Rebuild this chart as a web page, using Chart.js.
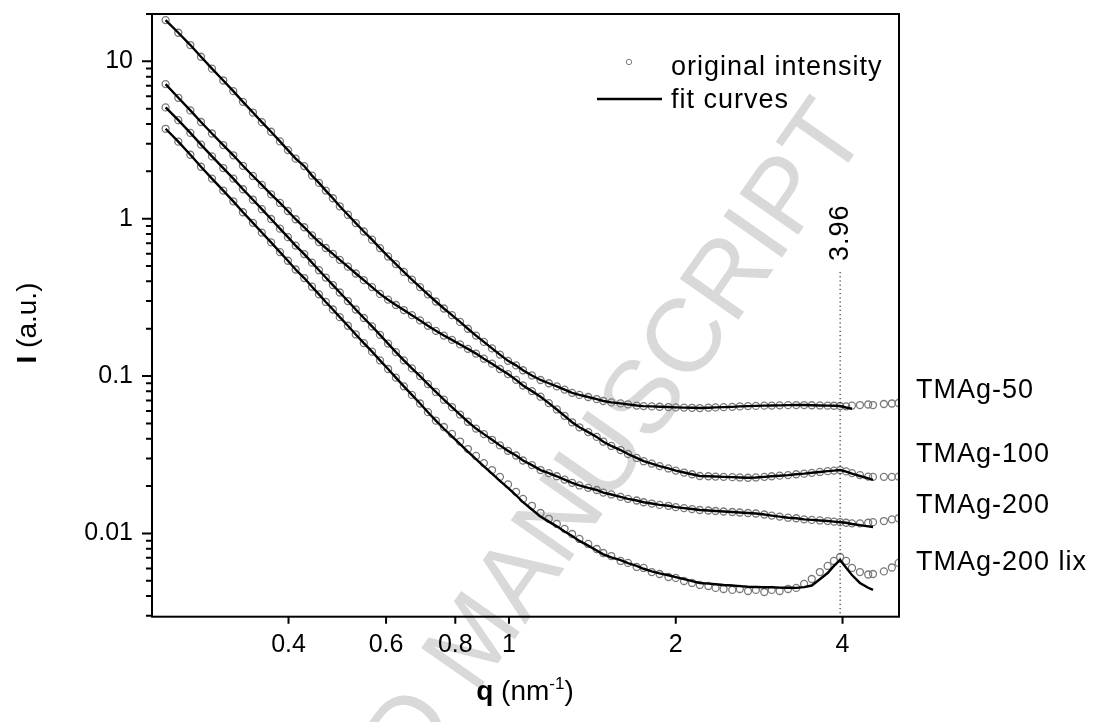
<!DOCTYPE html>
<html lang="en">

<head>
  <meta charset="UTF-8" />
  <title>SAXS intensity and fit curves</title>
  <script src="https://cdn.jsdelivr.net/npm/chart.js"></script>
  <style>
    body { margin: 0; background: #fff; }
    .wrap { position: relative; width: 1093px; height: 722px; }
  </style>
</head>

<body>
  <div class="wrap"><canvas id="saxsChart"></canvas></div>

  <script>
    // q grid (nm^-1), shared by all samples
    const q = [0.240, 0.253, 0.266, 0.278, 0.291, 0.305, 0.318, 0.331, 0.345, 0.358,
      0.372, 0.386, 0.399, 0.412, 0.427, 0.441, 0.454, 0.467, 0.481, 0.495,
      0.512, 0.529, 0.547, 0.566, 0.585, 0.605, 0.625, 0.646, 0.668, 0.691,
      0.714, 0.738, 0.763, 0.789, 0.816, 0.843, 0.872, 0.901, 0.932, 0.963,
      0.996, 1.03, 1.06, 1.10, 1.14, 1.18, 1.22, 1.26, 1.30, 1.34,
      1.39, 1.44, 1.48, 1.53, 1.59, 1.64, 1.70, 1.75, 1.81, 1.87,
      1.94, 2.00, 2.07, 2.14, 2.21, 2.29, 2.36, 2.44, 2.53, 2.61,
      2.70, 2.79, 2.89, 2.98, 3.08, 3.19, 3.30, 3.41, 3.52, 3.64,
      3.76, 3.86, 3.96, 4.06, 4.16, 4.30, 4.45, 4.54, 4.75, 4.91, 5.05];

    // measured intensity (a.u.)
    const tmag50 = [18.3, 15.2, 12.7, 10.7, 8.99, 7.56, 6.47, 5.53, 4.73, 4.11,
      3.57, 3.10, 2.73, 2.41, 2.16, 1.88, 1.69, 1.51, 1.35, 1.20,
      1.06, 0.939, 0.830, 0.736, 0.651, 0.576, 0.515, 0.459, 0.410, 0.368,
      0.331, 0.298, 0.269, 0.244, 0.221, 0.200, 0.181, 0.165, 0.150, 0.137,
      0.125, 0.117, 0.109, 0.101, 0.0945, 0.0901, 0.0860, 0.0821, 0.0783, 0.0760,
      0.0737, 0.0715, 0.0695, 0.0681, 0.0671, 0.0661, 0.0650, 0.0645, 0.0642, 0.0639,
      0.0636, 0.0633, 0.0631, 0.0629, 0.0627, 0.0630, 0.0633, 0.0635, 0.0638, 0.0642,
      0.0645, 0.0647, 0.0649, 0.0650, 0.0652, 0.0654, 0.0655, 0.0655, 0.0653, 0.0651,
      0.0649, 0.0648, 0.0646, 0.0643, 0.0650, 0.0655, 0.0660, 0.0655, 0.0665, 0.0670, 0.0675];

    const tmag100 = [7.17, 5.87, 4.88, 4.12, 3.48, 2.94, 2.53, 2.17, 1.87, 1.64,
      1.43, 1.26, 1.12, 0.993, 0.883, 0.784, 0.711, 0.652, 0.598, 0.548,
      0.496, 0.449, 0.407, 0.368, 0.333, 0.306, 0.283, 0.263, 0.244, 0.226,
      0.209, 0.194, 0.181, 0.170, 0.159, 0.149, 0.139, 0.129, 0.120, 0.111,
      0.103, 0.0947, 0.0872, 0.0803, 0.0740, 0.0674, 0.0614, 0.0559, 0.0509, 0.0473,
      0.0441, 0.0411, 0.0383, 0.0360, 0.0339, 0.0320, 0.0302, 0.0288, 0.0278, 0.0268,
      0.0259, 0.0251, 0.0244, 0.0238, 0.0232, 0.0231, 0.0230, 0.0229, 0.0228, 0.0227,
      0.0226, 0.0227, 0.0229, 0.0231, 0.0233, 0.0235, 0.0238, 0.0240, 0.0243, 0.0246,
      0.0249, 0.0251, 0.0253, 0.0248, 0.0242, 0.0235, 0.0230, 0.0229, 0.0229, 0.0229, 0.0230];

    const tmag200 = [5.10, 4.23, 3.51, 2.96, 2.49, 2.10, 1.80, 1.54, 1.32, 1.15,
      0.996, 0.865, 0.764, 0.675, 0.596, 0.526, 0.471, 0.423, 0.379, 0.340,
      0.300, 0.265, 0.234, 0.207, 0.183, 0.161, 0.142, 0.126, 0.112, 0.100,
      0.0890, 0.0793, 0.0708, 0.0636, 0.0570, 0.0513, 0.0464, 0.0428, 0.0394, 0.0363,
      0.0335, 0.0313, 0.0291, 0.0272, 0.0253, 0.0242, 0.0231, 0.0220, 0.0210, 0.0202,
      0.0195, 0.0189, 0.0182, 0.0177, 0.0171, 0.0166, 0.0162, 0.0158, 0.0155, 0.0152,
      0.0150, 0.0147, 0.0145, 0.0143, 0.0141, 0.0140, 0.0139, 0.0138, 0.0137, 0.0136,
      0.0135, 0.0134, 0.0132, 0.0130, 0.0128, 0.0126, 0.0125, 0.0123, 0.0122, 0.0121,
      0.0120, 0.0119, 0.0118, 0.0117, 0.0116, 0.0116, 0.0117, 0.0118, 0.0120, 0.0123, 0.0125];

    // fitted curves (same q grid, the fit stops before the last points)
    const tmag50Fit = [...tmag50.slice(0, 83), 0.0632, 0.0620];
    const tmag100Fit = [...tmag100.slice(0, 83), 0.0247, 0.0240, 0.0232, 0.0224, 0.0219];
    const tmag200Fit = [...tmag200.slice(0, 83), 0.0117, 0.0115, 0.0113, 0.0111, 0.0110];
    const lixFit = [3.73, 3.09, 2.55, 2.14, 1.80, 1.51, 1.29, 1.10, 0.942, 0.817,
      0.708, 0.614, 0.541, 0.476, 0.420, 0.370, 0.331, 0.296, 0.265, 0.237,
      0.209, 0.184, 0.162, 0.143, 0.126, 0.111, 0.0978, 0.0861, 0.0760, 0.0670,
      0.0590, 0.0521, 0.0463, 0.0414, 0.0370, 0.0331, 0.0297, 0.0267, 0.0240, 0.0216,
      0.0195, 0.0175, 0.0158, 0.0142, 0.0128, 0.0119, 0.0111, 0.0103, 0.00964, 0.00897,
      0.00837, 0.00779, 0.00737, 0.00706, 0.00677, 0.00649, 0.00622, 0.00597, 0.00574, 0.00558,
      0.00543, 0.00528, 0.00513, 0.00498, 0.00485, 0.00480, 0.00476, 0.00471, 0.00467, 0.00463,
      0.00459, 0.00457, 0.00455, 0.00455, 0.00453, 0.00452, 0.00451, 0.00456, 0.00467, 0.00512,
      0.00561, 0.00622, 0.00679, 0.00605, 0.00545, 0.00485, 0.00452, 0.00438];

    const tmag200lix = [...lixFit.slice(0, 32),
      0.0475, 0.0429, 0.0384, 0.0344, 0.0311, 0.0280, 0.0253, 0.0229, 0.0205, 0.0184,
      0.0166, 0.0150, 0.0135, 0.0124, 0.0115, 0.0107, 0.00993, 0.00923, 0.00858, 0.00797,
      0.00752, 0.00719, 0.00669, 0.00650, 0.00613, 0.00604, 0.00569, 0.00553, 0.00529, 0.00522,
      0.00499, 0.00485, 0.00471, 0.00464, 0.00451, 0.00444, 0.00438, 0.00444, 0.00431, 0.00438,
      0.00425, 0.00438, 0.00431, 0.00444, 0.00451, 0.00478, 0.00514, 0.00569, 0.00622,
      0.00669, 0.00709, 0.00669, 0.00604, 0.00569, 0.00549, 0.00553, 0.00574, 0.00608, 0.00650];

    const sampleNames = ['TMAg-50', 'TMAg-100', 'TMAg-200', 'TMAg-200 lix'];
    const xTicks = [0.4, 0.6, 0.8, 1, 2, 4];
    const yTicks = [0.01, 0.1, 1, 10];
    const peakQ = 3.96;

    const FONT = '"Liberation Sans", Arial, Helvetica, sans-serif';

    function toPoints(arr) {
      return q.map((x, i) => ({ x: x, y: arr[i] })).filter(p => p.y != null);
    }

    const circleStyle = {
      showLine: false, pointStyle: 'circle', pointRadius: 3.5, pointBorderWidth: 1.3,
      pointBorderColor: '#7a7a7a', pointBackgroundColor: 'rgba(0,0,0,0)', order: 2
    };
    const fitStyle = {
      showLine: true, borderColor: '#000', borderWidth: 2.4, pointRadius: 0, tension: 0, order: 1
    };

    const datasets = [];
    [tmag50, tmag100, tmag200, tmag200lix].forEach((d, i) => {
      datasets.push(Object.assign({ label: sampleNames[i] + ' data', data: toPoints(d) }, circleStyle));
    });
    [tmag50Fit, tmag100Fit, tmag200Fit, lixFit].forEach((d, i) => {
      datasets.push(Object.assign({ label: sampleNames[i] + ' fit', data: toPoints(d) }, fitStyle));
    });

    const watermark = {
      id: 'watermark',
      beforeDraw(chart) {
        const ctx = chart.ctx;
        ctx.save();
        ctx.translate(475, 696);
        ctx.rotate(-55 * Math.PI / 180);
        ctx.font = '104px ' + FONT;
        ctx.fillStyle = '#d9d9d9';
        ctx.textBaseline = 'alphabetic';
        const pre = ctx.measureText('ACCEPTED ').width;
        ctx.fillText('ACCEPTED MANUSCRIPT', -pre, 0);
        ctx.restore();
      }
    };

    const decorations = {
      id: 'decorations',
      afterDraw(chart) {
        const ctx = chart.ctx;
        const area = chart.chartArea;
        const xs = chart.scales.x;
        const ys = chart.scales.y;
        ctx.save();
        ctx.strokeStyle = '#000';
        ctx.fillStyle = '#000';

        // frame
        ctx.lineWidth = 2;
        ctx.strokeRect(area.left, area.top, area.right - area.left, area.bottom - area.top);

        // x ticks
        ctx.beginPath();
        xTicks.forEach(v => {
          const px = xs.getPixelForValue(v);
          ctx.moveTo(px, area.bottom);
          ctx.lineTo(px, area.bottom + 7);
        });
        // y ticks, major and minor
        yTicks.forEach(v => {
          const py = ys.getPixelForValue(v);
          ctx.moveTo(area.left, py);
          ctx.lineTo(area.left - 10, py);
        });
        [0.001, 0.01, 0.1, 1, 10].forEach(dec => {
          for (let m = 2; m <= 9; m++) {
            const v = m * dec;
            if (v < ys.min || v > ys.max) continue;
            const py = ys.getPixelForValue(v);
            ctx.moveTo(area.left, py);
            ctx.lineTo(area.left - 6, py);
          }
        });
        ctx.stroke();

        // peak marker
        const peakX = xs.getPixelForValue(peakQ);
        ctx.lineWidth = 1;
        ctx.setLineDash([1.2, 3]);
        ctx.beginPath();
        ctx.moveTo(peakX, 272);
        ctx.lineTo(peakX, area.bottom);
        ctx.stroke();
        ctx.setLineDash([]);

        ctx.font = '27px ' + FONT;
        ctx.letterSpacing = '1px';
        ctx.textBaseline = 'alphabetic';
        ctx.textAlign = 'left';

        ctx.save();
        ctx.translate(peakX + 8, 261);
        ctx.rotate(-Math.PI / 2);
        ctx.fillText(String(peakQ), 0, 0);
        ctx.restore();

        // sample labels
        const labelY = [398, 462, 513, 570];
        sampleNames.forEach((name, i) => ctx.fillText(name, area.right + 17, labelY[i]));

        // legend
        ctx.lineWidth = 1;
        ctx.strokeStyle = '#808080';
        ctx.beginPath();
        ctx.arc(629, 62, 2.7, 0, Math.PI * 2);
        ctx.stroke();
        ctx.fillText('original intensity', 671, 75);
        ctx.strokeStyle = '#000';
        ctx.lineWidth = 2.4;
        ctx.beginPath();
        ctx.moveTo(597, 99);
        ctx.lineTo(662, 99);
        ctx.stroke();
        ctx.fillText('fit curves', 671, 108);
        ctx.letterSpacing = '0px';

        // y title
        ctx.save();
        ctx.translate(36, 323);
        ctx.rotate(-Math.PI / 2);
        ctx.font = 'bold 28px ' + FONT;
        const wI = ctx.measureText('I').width;
        ctx.font = '28px ' + FONT;
        const wRest = ctx.measureText(' (a.u.)').width;
        const x0 = -(wI + wRest) / 2;
        ctx.font = 'bold 28px ' + FONT;
        ctx.fillText('I', x0, 0);
        ctx.font = '28px ' + FONT;
        ctx.fillText(' (a.u.)', x0 + wI, 0);
        ctx.restore();

        // x title
        ctx.font = 'bold 28px ' + FONT;
        const wq = ctx.measureText('q').width;
        ctx.font = '28px ' + FONT;
        const wnm = ctx.measureText(' (nm').width;
        const wClose = ctx.measureText(')').width;
        ctx.font = '17px ' + FONT;
        const wSup = ctx.measureText('-1').width;
        let xt = 525 - (wq + wnm + wSup + wClose) / 2;
        const base = 700;
        ctx.font = 'bold 28px ' + FONT;
        ctx.fillText('q', xt, base);
        xt += wq;
        ctx.font = '28px ' + FONT;
        ctx.fillText(' (nm', xt, base);
        xt += wnm;
        ctx.font = '17px ' + FONT;
        ctx.fillText('-1', xt, base - 11);
        xt += wSup;
        ctx.font = '28px ' + FONT;
        ctx.fillText(')', xt, base);

        ctx.restore();
      }
    };

    function noOverflow(s) {
      s.paddingTop = 0;
      s.paddingBottom = 0;
      s.paddingLeft = 0;
      s.paddingRight = 0;
    }

    new Chart(document.getElementById('saxsChart'), {
      type: 'scatter',
      data: { datasets: datasets },
      options: {
        responsive: true,
        maintainAspectRatio: false,
        animation: false,
        events: [],
        layout: { padding: { top: 14, right: 194, bottom: 0, left: 0 } },
        plugins: { legend: { display: false }, tooltip: { enabled: false } },
        scales: {
          x: {
            type: 'logarithmic',
            min: 0.2268,
            max: 5.058,
            grid: { display: false, drawTicks: false },
            border: { display: false },
            afterBuildTicks: s => { s.ticks = xTicks.map(v => ({ value: v })); },
            afterFit: s => { s.height = 105.3; noOverflow(s); },
            ticks: {
              autoSkip: false, maxRotation: 0, padding: 13, color: '#000',
              font: { family: FONT, size: 25 },
              callback: v => String(v)
            }
          },
          y: {
            type: 'logarithmic',
            min: 0.00296,
            max: 20,
            grid: { display: false, drawTicks: false },
            border: { display: false },
            afterBuildTicks: s => { s.ticks = yTicks.map(v => ({ value: v })); },
            afterFit: s => { s.width = 152; noOverflow(s); },
            ticks: {
              autoSkip: false, padding: 19, color: '#000',
              font: { family: FONT, size: 25 },
              callback: v => String(v)
            }
          }
        }
      },
      plugins: [watermark, decorations]
    });
  </script>
</body>

</html>
